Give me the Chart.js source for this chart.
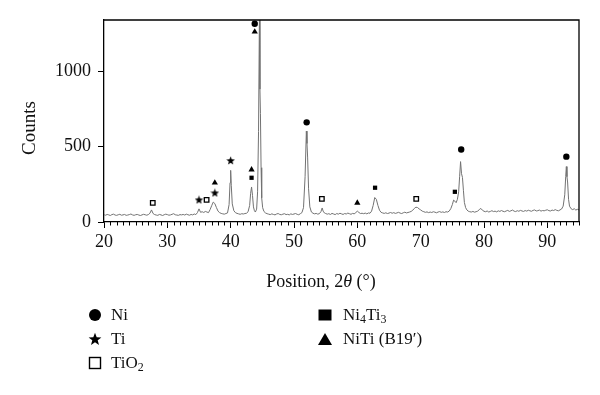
<!DOCTYPE html>
<html>
<head>
<meta charset="utf-8">
<script src="https://cdn.jsdelivr.net/npm/chart.js@4/dist/chart.umd.min.js"></script>
<style>
  html, body { margin: 0; padding: 0; background: #fff; }
  #wrap { position: relative; width: 600px; height: 395px; font-family: "Liberation Serif", "DejaVu Serif", serif; color: #111; }
  #c { position: absolute; left: 0; top: 0; }
  .sym { position: absolute; }
  .lab { position: absolute; height: 24px; line-height: 24px; font-size: 17px; white-space: nowrap; }
  .lab sub { font-size: 70%; vertical-align: -3px; line-height: 0; }
</style>
</head>
<body>
<div id="wrap">
  <canvas id="c" width="600" height="395"></canvas>
</div>
<script>
// XRD scan: [2theta, counts]
const scan = [
  [20.00,48],[20.25,45],[20.50,50],[20.75,47],[21.00,43],[21.25,49],[21.50,52],[21.75,46],
  [22.00,44],[22.25,48],[22.50,51],[22.75,45],[23.00,47],[23.25,50],[23.50,44],[23.75,46],
  [24.00,49],[24.25,53],[24.50,47],[24.75,44],[25.00,48],[25.25,50],[25.50,46],[25.75,43],
  [26.00,47],[26.25,51],[26.50,48],[26.75,45],[27.00,49],[27.25,58],[27.50,80],[27.75,56],
  [28.00,49],[28.25,46],[28.50,44],[28.75,50],[29.00,47],[29.25,43],[29.50,48],[29.75,52],
  [30.00,49],[30.25,45],[30.50,47],[30.75,51],[31.00,55],[31.25,48],[31.50,46],[31.75,44],
  [32.00,49],[32.25,47],[32.50,50],[32.75,46],[33.00,52],[33.25,48],[33.50,45],[33.75,50],
  [34.00,47],[34.25,53],[34.50,49],[34.75,62],[35.00,87],[35.25,64],[35.50,68],[35.75,63],
  [36.00,70],[36.25,66],[36.50,62],[36.75,82],[37.00,108],[37.25,132],[37.50,122],[37.75,96],
  [38.00,72],[38.25,62],[38.50,57],[38.75,54],[39.00,52],[39.25,56],[39.50,60],[39.75,115],
  [39.90,260],[40.00,342],[40.10,240],[40.25,120],[40.50,75],[40.75,62],[41.00,57],[41.25,54],
  [41.50,51],[41.75,55],[42.00,53],[42.25,56],[42.50,58],[42.75,68],[43.00,110],[43.15,190],
  [43.30,232],[43.45,175],[43.60,100],[43.75,75],[43.90,66],[44.10,85],[44.25,200],[44.40,600],
  [44.55,1420],[44.62,880],[44.70,720],[44.80,360],[44.90,160],[45.05,95],[45.25,70],[45.50,60],
  [45.75,55],[46.00,52],[46.25,49],[46.50,54],[46.75,50],[47.00,47],[47.25,53],[47.50,56],
  [47.75,50],[48.00,48],[48.25,52],[48.50,55],[48.75,49],[49.00,51],[49.25,47],[49.50,54],
  [49.75,50],[50.00,53],[50.25,56],[50.50,51],[50.75,48],[51.00,55],[51.25,62],[51.50,95],
  [51.75,300],[51.95,602],[52.05,520],[52.15,430],[52.30,220],[52.50,100],[52.75,66],[53.00,58],
  [53.25,54],[53.50,57],[53.75,52],[54.00,55],[54.25,68],[54.45,93],[54.60,72],[54.80,60],
  [55.00,56],[55.25,52],[55.50,55],[55.75,50],[56.00,57],[56.25,53],[56.50,49],[56.75,56],
  [57.00,52],[57.25,58],[57.50,54],[57.75,50],[58.00,56],[58.25,53],[58.50,59],[58.75,55],
  [59.00,51],[59.25,57],[59.50,54],[59.75,62],[60.00,72],[60.25,63],[60.50,56],[60.75,58],
  [61.00,55],[61.25,59],[61.50,54],[61.75,60],[62.00,58],[62.25,72],[62.50,110],[62.75,162],
  [63.00,150],[63.25,110],[63.50,78],[63.75,64],[64.00,60],[64.25,57],[64.50,61],[64.75,56],
  [65.00,59],[65.25,63],[65.50,58],[65.75,62],[66.00,57],[66.25,60],[66.50,64],[66.75,59],
  [67.00,56],[67.25,61],[67.50,65],[67.75,60],[68.00,63],[68.25,66],[68.50,70],[68.75,78],
  [69.00,90],[69.25,98],[69.50,96],[69.75,87],[70.00,80],[70.25,72],[70.50,68],[70.75,64],
  [71.00,67],[71.25,62],[71.50,66],[71.75,63],[72.00,68],[72.25,65],[72.50,61],[72.75,66],
  [73.00,69],[73.25,64],[73.50,67],[73.75,63],[74.00,68],[74.25,66],[74.50,72],[74.75,88],
  [75.00,115],[75.20,145],[75.40,138],[75.60,128],[75.80,150],[76.00,200],[76.15,300],[76.30,400],
  [76.45,320],[76.60,295],[76.75,210],[76.90,130],[77.10,95],[77.30,80],[77.50,72],[77.75,68],
  [78.00,66],[78.25,70],[78.50,65],[78.75,68],[79.00,72],[79.25,82],[79.50,90],[79.75,78],
  [80.00,71],[80.25,68],[80.50,73],[80.75,66],[81.00,70],[81.25,75],[81.50,69],[81.75,72],
  [82.00,67],[82.25,74],[82.50,70],[82.75,76],[83.00,71],[83.25,68],[83.50,73],[83.75,77],
  [84.00,70],[84.25,74],[84.50,79],[84.75,72],[85.00,69],[85.25,75],[85.50,71],[85.75,77],
  [86.00,73],[86.25,70],[86.50,76],[86.75,72],[87.00,78],[87.25,74],[87.50,71],[87.75,77],
  [88.00,80],[88.25,73],[88.50,75],[88.75,79],[89.00,72],[89.25,76],[89.50,74],[89.75,78],
  [90.00,81],[90.25,75],[90.50,73],[90.75,79],[91.00,76],[91.25,82],[91.50,77],[91.75,74],
  [92.00,80],[92.25,86],[92.50,105],[92.75,180],[92.90,300],[93.00,367],[93.10,300],[93.20,265],
  [93.35,150],[93.50,105],[93.75,88],[94.00,82],[94.25,88],[94.50,79],[94.75,84],[95.00,80]
];

// phase markers placed over the peaks: [2theta, counts]
const niMarks     = [[43.8,1313],[52.0,660],[76.4,480],[93.0,433]];
const tiMarks     = [[35.0,147],[37.5,193],[40.0,407]];
const tio2Marks   = [[27.7,127],[36.2,147],[54.4,153],[69.3,153]];
const ni4ti3Marks = [[43.3,293],[62.8,227],[75.4,200]];
const nitiMarks   = [[43.8,1260],[37.5,260],[43.3,347],[60.0,127]];

const xTicks = [20, 30, 40, 50, 60, 70, 80, 90];
const yTicks = [0, 500, 1000];

const FONT = '"Liberation Serif", "DejaVu Serif", serif';

function starCanvas(size) {
  const c = document.createElement('canvas');
  c.width = size; c.height = size;
  const g = c.getContext('2d');
  const cx = size / 2, cy = size / 2 + size * 0.04;
  g.beginPath();
  for (let i = 0; i < 10; i++) {
    const r = i % 2 ? size * 0.21 : size * 0.5;
    const a = -Math.PI / 2 + i * Math.PI / 5;
    const px = cx + r * Math.cos(a), py = cy + r * Math.sin(a);
    if (i === 0) g.moveTo(px, py); else g.lineTo(px, py);
  }
  g.closePath();
  g.fillStyle = '#000';
  g.fill();
  return c;
}

const toPts = arr => arr.map(([x, y]) => ({x, y}));

const marker = (label, data, style, radius, bg, extra) => Object.assign({
  label,
  data: toPts(data),
  showLine: false,
  pointStyle: style,
  pointRadius: radius,
  pointBackgroundColor: bg,
  pointBorderColor: '#000',
  pointBorderWidth: 0,
  clip: false,
}, extra || {});

const frame = {
  id: 'frame',
  afterDraw(chart) {
    const {ctx, chartArea: a, scales: {x, y}} = chart;
    ctx.save();
    ctx.strokeStyle = '#000';
    ctx.lineWidth = 1.3;
    ctx.beginPath();
    ctx.moveTo(a.left, a.top); ctx.lineTo(a.right, a.top); ctx.lineTo(a.right, a.bottom);
    ctx.stroke();
    // minor ticks on the 2theta axis
    ctx.lineWidth = 1;
    ctx.beginPath();
    for (let v = 21; v <= 95; v++) {
      if (v % 10 === 0) continue;
      const px = Math.round(x.getPixelForValue(v)) + 0.5;
      ctx.moveTo(px, a.bottom); ctx.lineTo(px, a.bottom + 3.5);
    }
    ctx.stroke();
    // axis titles
    ctx.fillStyle = '#111';
    ctx.textBaseline = 'middle';
    const parts = [['Position, 2', 'normal'], ['θ', 'italic'], [' (°)', 'normal']];
    let w = 0;
    parts.forEach(p => { ctx.font = p[1] + ' 18px ' + FONT; w += ctx.measureText(p[0]).width; });
    let tx = 321 - w / 2;
    parts.forEach(p => {
      ctx.font = p[1] + ' 18px ' + FONT;
      ctx.fillText(p[0], tx, 282);
      tx += ctx.measureText(p[0]).width;
    });
    ctx.translate(30, 128);
    ctx.rotate(-Math.PI / 2);
    ctx.textAlign = 'center';
    ctx.font = '19px ' + FONT;
    ctx.fillText('Counts', 0, 0);
    ctx.restore();
  }
};

new Chart(document.getElementById('c').getContext('2d'), {
  type: 'scatter',
  data: {
    datasets: [
      {
        label: 'scan',
        data: toPts(scan),
        showLine: true,
        borderColor: '#727272',
        borderWidth: 1,
        pointRadius: 0,
        tension: 0,
      },
      marker('Ni', niMarks, 'circle', 3.2, '#000'),
      marker('Ti', tiMarks, starCanvas(9), 4, '#000'),
      marker('TiO2', tio2Marks, 'rect', 3.2, '#fff', {pointBorderWidth: 1.3}),
      marker('Ni4Ti3', ni4ti3Marks, 'rect', 3, '#000'),
      marker('NiTi (B19\u2032)', nitiMarks, 'triangle', 3.6, '#000'),
    ]
  },
  options: {
    responsive: false,
    animation: false,
    layout: {padding: {top: 20, right: 21, bottom: 0, left: 0}},
    plugins: {legend: {display: false}, tooltip: {enabled: false}},
    scales: {
      x: {
        type: 'linear',
        min: 20, max: 95,
        afterFit: s => { s.height = 173; },
        afterBuildTicks: s => { s.ticks = xTicks.map(v => ({value: v})); },
        grid: {display: true, drawOnChartArea: false, drawTicks: true, tickLength: 6, color: '#000', lineWidth: 1},
        border: {display: true, color: '#000', width: 1.3},
        ticks: {color: '#111', font: {family: FONT, size: 18}, padding: 3, maxRotation: 0, callback: v => String(v)},
      },
      y: {
        min: 0, max: 1338,
        afterFit: s => { s.width = 104; },
        afterBuildTicks: s => { s.ticks = yTicks.map(v => ({value: v})); },
        grid: {display: true, drawOnChartArea: false, drawTicks: true, tickLength: 6, color: '#000', lineWidth: 1},
        border: {display: true, color: '#000', width: 1.3},
        ticks: {color: '#111', font: {family: FONT, size: 18}, padding: 7, callback: v => String(v)},
      }
    }
  },
  plugins: [frame]
});

// legend below the plot
const legendItems = [
  {sym: 'circle',   cx: 95,  cy: 315, tx: 111, html: 'Ni'},
  {sym: 'star',     cx: 95,  cy: 339, tx: 111, html: 'Ti'},
  {sym: 'open',     cx: 95,  cy: 363, tx: 111, html: 'TiO<sub>2</sub>'},
  {sym: 'square',   cx: 325, cy: 315, tx: 343, html: 'Ni<sub>4</sub>Ti<sub>3</sub>'},
  {sym: 'triangle', cx: 325, cy: 339, tx: 343, html: 'NiTi (B19\u2032)'},
];
const shapes = {
  circle:   '<circle cx="7" cy="7" r="6" fill="#000"/>',
  star:     '<polygon fill="#000" points="7,0.8 8.7,5.2 13.4,5.4 9.7,8.3 11,12.9 7,10.3 3,12.9 4.3,8.3 0.6,5.4 5.3,5.2"/>',
  open:     '<rect x="1.5" y="1.5" width="11" height="11" fill="#fff" stroke="#000" stroke-width="1.4"/>',
  square:   '<rect x="0.5" y="1.5" width="13" height="11" fill="#000"/>',
  triangle: '<polygon fill="#000" points="7,1 14,13 0,13"/>',
};
const wrap = document.getElementById('wrap');
legendItems.forEach(it => {
  const s = document.createElement('div');
  s.className = 'sym';
  s.style.left = (it.cx - 7) + 'px';
  s.style.top = (it.cy - 7) + 'px';
  s.innerHTML = '<svg width="14" height="14" viewBox="0 0 14 14">' + shapes[it.sym] + '</svg>';
  wrap.appendChild(s);
  const t = document.createElement('div');
  t.className = 'lab';
  t.style.left = it.tx + 'px';
  t.style.top = (it.cy - 12) + 'px';
  t.innerHTML = it.html;
  wrap.appendChild(t);
});
</script>
</body>
</html>
